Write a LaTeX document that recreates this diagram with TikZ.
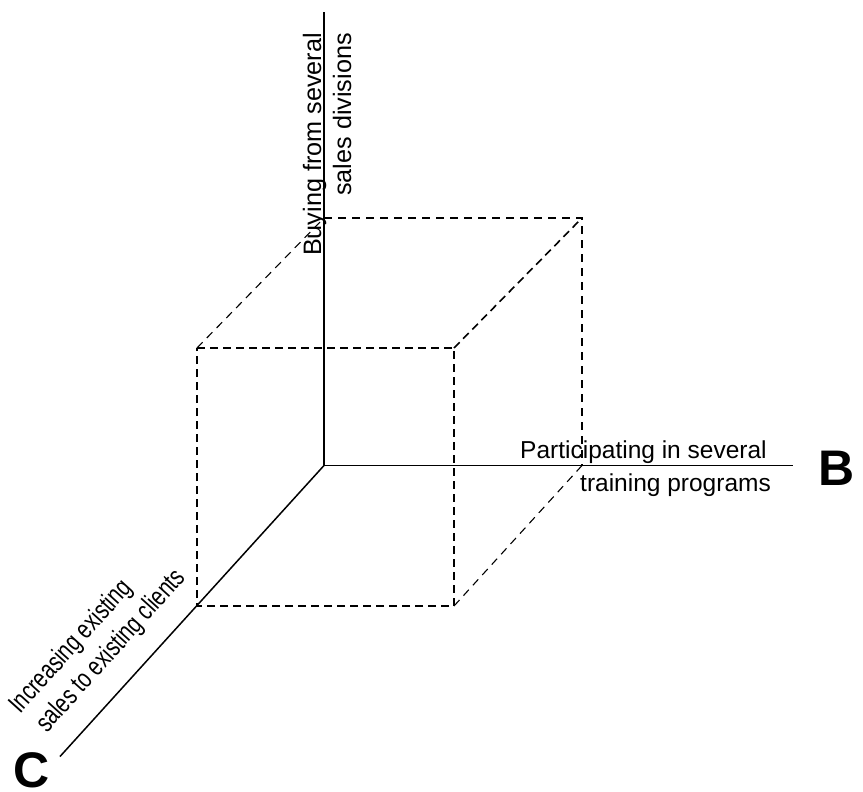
\documentclass[tikz,border=0pt]{standalone}
\usepackage{fontspec}
\setmainfont{Liberation Sans}
\newfontfamily\narrowfont[FakeStretch=0.76]{Liberation Sans}
\begin{document}
\begin{tikzpicture}[x=1pt,y=-1pt,
  axis/.style={line width=1.5pt},
  edge/.style={line width=1.6pt, dash pattern=on 8pt off 5pt},
  backedge/.style={line width=1.1pt, dash pattern=on 8pt off 6pt},
  lbl/.style={inner sep=0pt, font=\fontsize{24.5}{33}\selectfont},
  vlbl/.style={inner sep=0pt, font=\fontsize{25.2}{33}\selectfont},
  clbl/.style={inner sep=0pt, font=\narrowfont\fontsize{26.8}{33}\selectfont},
  big/.style={inner sep=0pt, font=\fontsize{50}{54}\selectfont\bfseries}]
\useasboundingbox (0,0) rectangle (863,792);
% axes
\coordinate (O) at (324,465.5);
\coordinate (Atop) at (324,12);
\coordinate (Aright) at (793,465.5);
\coordinate (Aleft) at (60,756.5);
% cube corners
\coordinate (BTL) at (324,218);
\coordinate (BTR) at (582,218);
\coordinate (BBR) at (582,465.5);
\coordinate (FTL) at (197,348);
\coordinate (FTR) at (454,348);
\coordinate (FBR) at (454,606);
\coordinate (FBL) at (197,606);
% dashed cube
\draw[edge] (FTL) -- (FTR) -- (FBR) -- (FBL) -- cycle;
\draw[backedge] (BTL) -- (BTR) -- (BBR);
\draw[backedge] (FTL) -- (BTL);
\draw[edge] (FTR) -- (BTR);
\draw[backedge] (FBR) -- (BBR);
% axes
\draw[axis] (O) -- (Atop);
\draw[axis] (O) -- (Aright);
\draw[axis] (O) -- (Aleft);
% labels
\node[vlbl, rotate=90, anchor=base east] (v1) at (321,33) {Buying from several};
\node[vlbl, rotate=90, anchor=base east] (v2) at (351,33) {sales divisions};
\node[lbl, anchor=base west] (h1) at (520,458) {Participating in several};
\node[lbl, anchor=base west] (h2) at (580,491.5) {training programs};
\node[clbl, rotate=48, anchor=base west] (c1) at (20,714.5) {Increasing existing};
\node[clbl, rotate=48, anchor=base west] (c2) at (47,733.5) {sales to existing clients};
\node[big, anchor=base west] (B) at (818,485) {B};
\node[big, anchor=base west] (C) at (13,787) {C};
\end{tikzpicture}
\end{document}
